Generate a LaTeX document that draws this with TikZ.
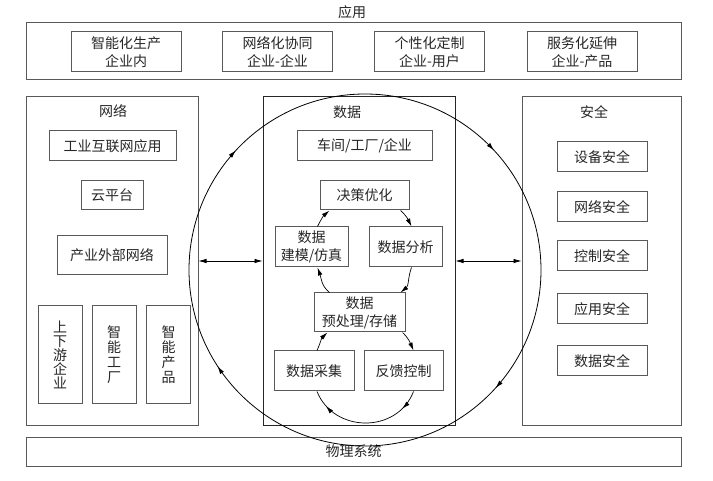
\documentclass[tikz,border=0pt]{standalone}
\usepackage{fontspec}
\setmainfont{Noto Sans CJK SC}
\usetikzlibrary{arrows.meta,decorations.markings}

\tikzset{
  box/.style={draw=black!65,line width=1pt,inner sep=0pt,align=center,text=black!85},
  panel/.style={draw=black!65,line width=1pt,inner sep=0pt},
  ttl/.style={text=black!85,inner sep=0pt},
  vbox/.style={box,minimum width=44,minimum height=97,font=\fontsize{14pt}{14.5pt}\selectfont},
  sbox/.style={box,minimum width=90,minimum height=30},
  cyc/.style={->,line width=0.7pt},
  botarc/.style={line width=0.7pt,postaction={decorate},decoration={markings,
    mark=at position 0.17 with {\arrow{Latex[length=8pt,width=4.5pt]}},
    mark=at position 0.86 with {\arrow{Latex[length=8pt,width=4.5pt]}}}},
  bigloop/.style={line width=0.8pt,postaction={decorate},decoration={markings,
    mark=at position 0.119 with {\arrowreversed{Latex[length=8pt,width=4.5pt]}},
    mark=at position 0.381 with {\arrowreversed{Latex[length=8pt,width=4.5pt]}},
    mark=at position 0.592 with {\arrowreversed{Latex[length=8pt,width=4.5pt]}},
    mark=at position 0.883 with {\arrowreversed{Latex[length=8pt,width=4.5pt]}}}}
}

\begin{document}
\begin{tikzpicture}[x=1pt,y=1pt,>={Latex[length=8pt,width=4.5pt]},font=\fontsize{14pt}{18pt}\selectfont]
\useasboundingbox (0,0) rectangle (713,-481);

% application layer
\node[ttl] (tapp) at (352,-12) {应用};
\node[panel,minimum width=655,minimum height=57] (app) at (353.5,-51.5) {};
\node[box,minimum width=110,minimum height=40] (app1) at (126,-52) {智能化生产\\企业内};
\node[box,minimum width=110,minimum height=40] (app2) at (277.5,-52) {网络化协同\\企业-企业};
\node[box,minimum width=110,minimum height=40] (app3) at (429.5,-52) {个性化定制\\企业-用户};
\node[box,minimum width=110,minimum height=40] (app4) at (582,-52) {服务化延伸\\企业-产品};

% network
\node[panel,minimum width=172,minimum height=328] (net) at (112,-261) {};
\node[ttl] (tnet) at (113,-111) {网络};
\node[box,minimum width=127,minimum height=30] (net1) at (112.5,-146) {工业互联网应用};
\node[box,minimum width=62,minimum height=29] (net2) at (112,-195.5) {云平台};
\node[box,minimum width=110,minimum height=39] (net3) at (112,-255.5) {产业外部网络};
\node[vbox,font=\fontsize{14pt}{14pt}\selectfont] (nv1) at (60,-354.5) {上\\下\\游\\企\\业};
\node[vbox,font=\fontsize{14pt}{15pt}\selectfont] (nv2) at (114,-354.5) {智\\能\\工\\厂};
\node[vbox,font=\fontsize{14pt}{15pt}\selectfont] (nv3) at (168.5,-354.5) {智\\能\\产\\品};

% data
\node[panel,draw=black!85,minimum width=192,minimum height=328] (dat) at (359,-261) {};
\node[ttl] (tdat) at (347,-112) {数据};
\node[box,minimum width=135,minimum height=30] (dat0) at (364.5,-146) {车间/工厂/企业};
\node[box,minimum width=89,minimum height=29] (jc) at (364.5,-195.5) {决策优化};
\node[box,minimum width=73,minimum height=40] (jm) at (311.5,-247) {数据\\建模/仿真};
\node[box,minimum width=73,minimum height=40] (fx) at (405.5,-247) {数据分析};
\node[box,minimum width=91,minimum height=39] (yc) at (359.5,-312.5) {数据\\预处理/存储};
\node[box,minimum width=80,minimum height=40] (cj) at (314,-371) {数据采集};
\node[box,minimum width=79,minimum height=40] (fk) at (403.5,-371) {反馈控制};

% security
\node[panel,minimum width=159,minimum height=328] (sec) at (601.5,-261) {};
\node[ttl] (tsec) at (594,-112) {安全};
\node[sbox] (sec1) at (602,-157) {设备安全};
\node[sbox] (sec2) at (602,-207) {网络安全};
\node[sbox] (sec3) at (602,-256) {控制安全};
\node[sbox] (sec4) at (602,-309) {应用安全};
\node[sbox] (sec5) at (602,-361) {数据安全};

% physical system
\node[box,minimum width=655,minimum height=29] (phy) at (353.5,-451.5) {物理系统};

% links between panels
\draw[<->,line width=0.7pt] (net.east) -- (dat.west);
\draw[<->,line width=0.7pt] (dat.east) -- (sec.west);

% big loop
\draw[bigloop] (365,-270) circle[radius=176];

% inner loops
\draw[cyc] ([xshift=6pt]jm.north) to[out=64,in=221] ([xshift=10pt]jc.south west);
\draw[cyc] ([xshift=-9pt]jc.south east) to[out=-41,in=116] ([xshift=6pt]fx.north);
\draw[cyc] ([xshift=6pt]fx.south) to[out=250,in=39] ([xshift=-5pt]yc.north east);
\draw[cyc] ([xshift=16pt]yc.north west) to[out=141,in=290] ([xshift=6pt]jm.south);
\draw[cyc] ([xshift=3pt]cj.north) to[out=66,in=223] ([xshift=14pt]yc.south west);
\draw[cyc] ([xshift=-3pt]yc.south east) to[out=-43,in=113] ([xshift=10pt]fk.north);
\draw[botarc] ([xshift=10pt]fk.south) to[out=249,in=292,looseness=1.2] ([xshift=3pt]cj.south);
\end{tikzpicture}
\end{document}
